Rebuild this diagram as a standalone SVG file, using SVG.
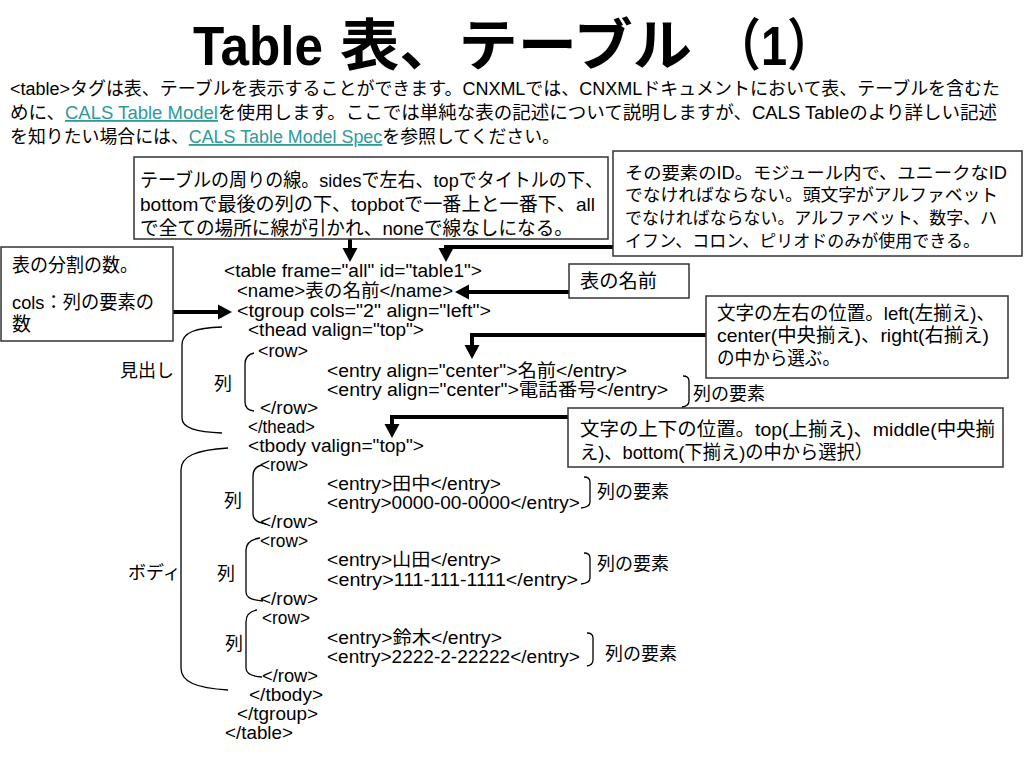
<svg xmlns="http://www.w3.org/2000/svg" width="1024" height="768" viewBox="0 0 1024 768">
<style>
text{font-family:"Liberation Sans","Noto Sans CJK JP",sans-serif;fill:#000}
.title{font-size:56px;font-weight:bold}
.intro{font-size:18px}
.link{fill:#2E9A9A;text-decoration:underline}
.box{fill:#fff;stroke:#333;stroke-width:1.5}
.bt{font-size:19px}
.bt2{font-size:17.5px}
.code{font-size:18px}
.lab{font-size:18px}
.thick{fill:none;stroke:#000;stroke-width:4}
.thin{fill:none;stroke:#000;stroke-width:1.3}
</style>
<defs>
<marker id="ah" markerUnits="userSpaceOnUse" markerWidth="16" markerHeight="16" refX="0" refY="8" orient="auto">
<path d="M0,0.5 L14,8 L0,15.5 z" fill="#000"/>
</marker>
</defs>
<rect width="1024" height="768" fill="#fff"/>

<g id="title">
<text class="title" x="193" y="65" textLength="130" lengthAdjust="spacingAndGlyphs">Table </text>
<text class="title" x="340" y="65" textLength="352" lengthAdjust="spacingAndGlyphs">表、テーブル</text>
<text class="title" x="714" y="65" textLength="120" lengthAdjust="spacingAndGlyphs">（1）</text>
</g>

<g id="intro">
<text class="intro" x="10" y="95" textLength="990" lengthAdjust="spacingAndGlyphs">&lt;table&gt;タグは表、テーブルを表示することができます。CNXMLでは、CNXMLドキュメントにおいて表、テーブルを含むた</text>
<text class="intro" x="10" y="119" textLength="987" lengthAdjust="spacingAndGlyphs">めに、<tspan class="link">CALS Table Model</tspan>を使用します。ここでは単純な表の記述について説明しますが、CALS Tableのより詳しい記述</text>
<text class="intro" x="10" y="143" textLength="550" lengthAdjust="spacingAndGlyphs">を知りたい場合には、<tspan class="link">CALS Table Model Spec</tspan>を参照してください。</text>
</g>

<g id="connectors">
<path class="thick" d="M350,239 L350,248" marker-end="url(#ah)"/>
<path class="thick" d="M613,247 L446,247 L446,248" marker-end="url(#ah)"/>
<path class="thick" d="M569,292 L469,292" marker-end="url(#ah)"/>
<path class="thick" d="M173,312 L218,312" marker-end="url(#ah)"/>
<path class="thick" d="M706,335 L472,335 L472,345" marker-end="url(#ah)"/>
<path class="thick" d="M568,417 L392,417 L392,424" marker-end="url(#ah)"/>
</g>

<g id="box-frame">
<rect class="box" x="134" y="157" width="474" height="82"/>
<text class="bt" x="140" y="187" textLength="463" lengthAdjust="spacingAndGlyphs">テーブルの周りの線。sidesで左右、topでタイトルの下、</text>
<text class="bt" x="140" y="211" textLength="455" lengthAdjust="spacingAndGlyphs">bottomで最後の列の下、topbotで一番上と一番下、all</text>
<text class="bt" x="140" y="235" textLength="433" lengthAdjust="spacingAndGlyphs">で全ての場所に線が引かれ、noneで線なしになる。</text>
</g>

<g id="box-id">
<rect class="box" x="613" y="151" width="409" height="105"/>
<text class="bt2" x="625" y="179" textLength="382" lengthAdjust="spacingAndGlyphs">その要素のID。モジュール内で、ユニークなID</text>
<text class="bt2" x="625" y="201" textLength="373" lengthAdjust="spacingAndGlyphs">でなければならない。頭文字がアルファベット</text>
<text class="bt2" x="625" y="224" textLength="372" lengthAdjust="spacingAndGlyphs">でなければならない。アルファベット、数字、ハ</text>
<text class="bt2" x="625" y="247" textLength="355" lengthAdjust="spacingAndGlyphs">イフン、コロン、ピリオドのみが使用できる。</text>
</g>

<g id="box-name">
<rect class="box" x="569" y="264" width="120" height="34"/>
<text class="bt" x="580" y="288" textLength="77" lengthAdjust="spacingAndGlyphs">表の名前</text>
</g>

<g id="box-cols">
<rect class="box" x="1" y="247" width="172" height="94"/>
<text class="bt" x="12" y="272" textLength="126" lengthAdjust="spacingAndGlyphs">表の分割の数。</text>
<text class="bt" x="12" y="309" textLength="142" lengthAdjust="spacingAndGlyphs">cols：列の要素の</text>
<text class="bt" x="12" y="331">数</text>
</g>

<g id="box-align">
<rect class="box" x="706" y="296" width="302" height="82"/>
<text class="bt" x="717" y="320" textLength="278" lengthAdjust="spacingAndGlyphs">文字の左右の位置。left(左揃え)、</text>
<text class="bt" x="717" y="342" textLength="272" lengthAdjust="spacingAndGlyphs">center(中央揃え)、right(右揃え)</text>
<text class="bt" x="717" y="365" textLength="123" lengthAdjust="spacingAndGlyphs">の中から選ぶ。</text>
</g>

<g id="box-valign">
<rect class="box" x="568" y="408" width="435" height="59"/>
<text class="bt" x="580" y="436" textLength="415" lengthAdjust="spacingAndGlyphs">文字の上下の位置。top(上揃え)、middle(中央揃</text>
<text class="bt" x="580" y="459" textLength="293" lengthAdjust="spacingAndGlyphs">え)、bottom(下揃え)の中から選択）</text>
</g>

<g id="code">
<text class="code" x="224" y="277" textLength="258" lengthAdjust="spacingAndGlyphs">&lt;table frame="all" id="table1"&gt;</text>
<text class="code" x="237" y="297" textLength="216" lengthAdjust="spacingAndGlyphs">&lt;name&gt;表の名前&lt;/name&gt;</text>
<text class="code" x="237" y="317" textLength="254" lengthAdjust="spacingAndGlyphs">&lt;tgroup cols="2" align="left"&gt;</text>
<text class="code" x="248" y="336" textLength="176" lengthAdjust="spacingAndGlyphs">&lt;thead valign="top"&gt;</text>
<text class="code" x="258" y="357" textLength="50" lengthAdjust="spacingAndGlyphs">&lt;row&gt;</text>
<text class="code" x="327" y="377" textLength="300" lengthAdjust="spacingAndGlyphs">&lt;entry align="center"&gt;名前&lt;/entry&gt;</text>
<text class="code" x="327" y="396" textLength="341" lengthAdjust="spacingAndGlyphs">&lt;entry align="center"&gt;電話番号&lt;/entry&gt;</text>
<text class="code" x="260" y="414" textLength="58" lengthAdjust="spacingAndGlyphs">&lt;/row&gt;</text>
<text class="code" x="248" y="433" textLength="67" lengthAdjust="spacingAndGlyphs">&lt;/thead&gt;</text>
<text class="code" x="248" y="452" textLength="176" lengthAdjust="spacingAndGlyphs">&lt;tbody valign="top"&gt;</text>
<text class="code" x="260" y="471" textLength="48" lengthAdjust="spacingAndGlyphs">&lt;row&gt;</text>
<text class="code" x="327" y="490" textLength="174" lengthAdjust="spacingAndGlyphs">&lt;entry&gt;田中&lt;/entry&gt;</text>
<text class="code" x="327" y="509" textLength="253" lengthAdjust="spacingAndGlyphs">&lt;entry&gt;0000-00-0000&lt;/entry&gt;</text>
<text class="code" x="260" y="528" textLength="58" lengthAdjust="spacingAndGlyphs">&lt;/row&gt;</text>
<text class="code" x="260" y="547" textLength="48" lengthAdjust="spacingAndGlyphs">&lt;row&gt;</text>
<text class="code" x="327" y="566" textLength="174" lengthAdjust="spacingAndGlyphs">&lt;entry&gt;山田&lt;/entry&gt;</text>
<text class="code" x="327" y="586" textLength="251" lengthAdjust="spacingAndGlyphs">&lt;entry&gt;111-111-1111&lt;/entry&gt;</text>
<text class="code" x="260" y="605" textLength="58" lengthAdjust="spacingAndGlyphs">&lt;/row&gt;</text>
<text class="code" x="262" y="624" textLength="48" lengthAdjust="spacingAndGlyphs">&lt;row&gt;</text>
<text class="code" x="327" y="644" textLength="175" lengthAdjust="spacingAndGlyphs">&lt;entry&gt;鈴木&lt;/entry&gt;</text>
<text class="code" x="327" y="663" textLength="253" lengthAdjust="spacingAndGlyphs">&lt;entry&gt;2222-2-22222&lt;/entry&gt;</text>
<text class="code" x="262" y="682" textLength="56" lengthAdjust="spacingAndGlyphs">&lt;/row&gt;</text>
<text class="code" x="249" y="701" textLength="74" lengthAdjust="spacingAndGlyphs">&lt;/tbody&gt;</text>
<text class="code" x="237" y="720" textLength="81" lengthAdjust="spacingAndGlyphs">&lt;/tgroup&gt;</text>
<text class="code" x="225" y="739" textLength="68" lengthAdjust="spacingAndGlyphs">&lt;/table&gt;</text>
</g>

<g id="brackets">
<path class="thin" d="M222,327 C196,328 182,332 182,345 L182,418 C182,428 196,432 222,433"/>
<path class="thin" d="M254,353 Q245,355 245,364 L245,402 Q245,410 254,411"/>
<path class="thin" d="M228,448 C196,450 181,456 181,470 L181,668 C181,682 196,688 228,690"/>
<path class="thin" d="M262,465 Q253,467 253,476 L253,514 Q253,522 266,524"/>
<path class="thin" d="M260,538 Q246,540 246,550 L246,592 Q246,600 263,601"/>
<path class="thin" d="M257,610 Q246,612 246,622 L246,668 Q246,676 262,677"/>
<path class="thin" d="M683,376 Q689,376 689,381 L689,401 Q689,406 682,407"/>
<path class="thin" d="M584,477 Q590,477 590,482 L590,502 Q590,507 581,508"/>
<path class="thin" d="M584,553 Q590,553 590,558 L590,578 Q590,583 581,584"/>
<path class="thin" d="M587,633 Q593,633 593,638 L593,660 Q593,665 587,666"/>
</g>

<g id="labels">
<text class="lab" x="120" y="377">見出し</text>
<text class="lab" x="214" y="390">列</text>
<text class="lab" x="128" y="579">ボディ</text>
<text class="lab" x="224" y="507">列</text>
<text class="lab" x="217" y="580">列</text>
<text class="lab" x="225" y="650">列</text>
<text class="lab" x="693" y="400">列の要素</text>
<text class="lab" x="597" y="498">列の要素</text>
<text class="lab" x="597" y="570">列の要素</text>
<text class="lab" x="605" y="660">列の要素</text>
</g>
</svg>
